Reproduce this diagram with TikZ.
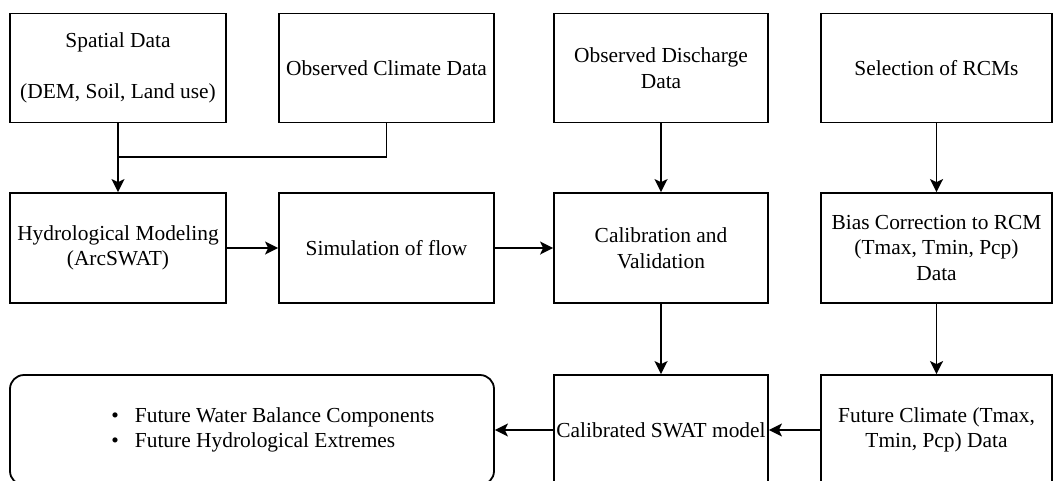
\documentclass[tikz,border=0pt]{standalone}
\usepackage{fontspec}
\setmainfont{Liberation Serif}
\usetikzlibrary{positioning, arrows.meta}

\begin{document}
\begin{tikzpicture}[x=1pt, y=-1pt, line width=1.8pt,
  blk/.style={draw, rectangle, minimum width=216pt, minimum height=109pt, inner sep=1pt, align=center, font=\rmfamily\fontsize{21.4}{25.5}\selectfont},
  arr/.style={-{Stealth[length=13pt, width=13pt, inset=3pt]}}]
\useasboundingbox (0,0) rectangle (1054,480);

% top row
\node[blk] (spatial) at (118,68) {Spatial Data\\[26pt](DEM, Soil, Land use)};
\node[blk, minimum width=215pt] (climate) at (386.5,68) {Observed Climate Data};
\node[blk, minimum width=214pt] (discharge) at (661,68) {Observed Discharge\\Data};
\node[blk, minimum width=231pt] (rcm) at (936.5,68) {Selection of RCMs};

% middle row
\node[blk, minimum height=110pt] (hydro) at (118,248) {Hydrological Modeling\\(ArcSWAT)};
\node[blk, minimum width=215pt, minimum height=110pt] (sim) at (386.5,248) {Simulation of flow};
\node[blk, minimum width=214pt, minimum height=110pt] (calib) at (661,248) {Calibration and\\Validation};
\node[blk, minimum width=231pt, minimum height=110pt] (bias) at (936.5,248) {Bias Correction to RCM\\(Tmax, Tmin, Pcp)\\Data};

% bottom row
\node[blk, rounded corners=14pt, minimum width=484pt, minimum height=110pt, align=left] (outcome) at (252,430)
  {\hspace*{42pt}\textbullet\hspace{16pt}Future Water Balance Components\\\hspace*{42pt}\textbullet\hspace{16pt}Future Hydrological Extremes};
\node[blk, minimum width=214pt, minimum height=110pt] (swat) at (661,430) {Calibrated SWAT model};
\node[blk, minimum width=231pt, minimum height=110pt] (future) at (936.5,430) {Future Climate (Tmax,\\Tmin, Pcp) Data};

\coordinate (join) at (118,157);
\draw (climate.south) |- (join);
\draw[arr] (spatial.south) -- (hydro.north);
\draw[arr] (hydro.east) -- (sim.west);
\draw[arr] (sim.east) -- (calib.west);
\draw[arr] (discharge.south) -- (calib.north);
\draw[arr] (rcm.south) -- (bias.north);
\draw[arr] (calib.south) -- (swat.north);
\draw[arr] (bias.south) -- (future.north);
\draw[arr] (future.west) -- (swat.east);
\draw[arr] (swat.west) -- (outcome.east);
\end{tikzpicture}
\end{document}
